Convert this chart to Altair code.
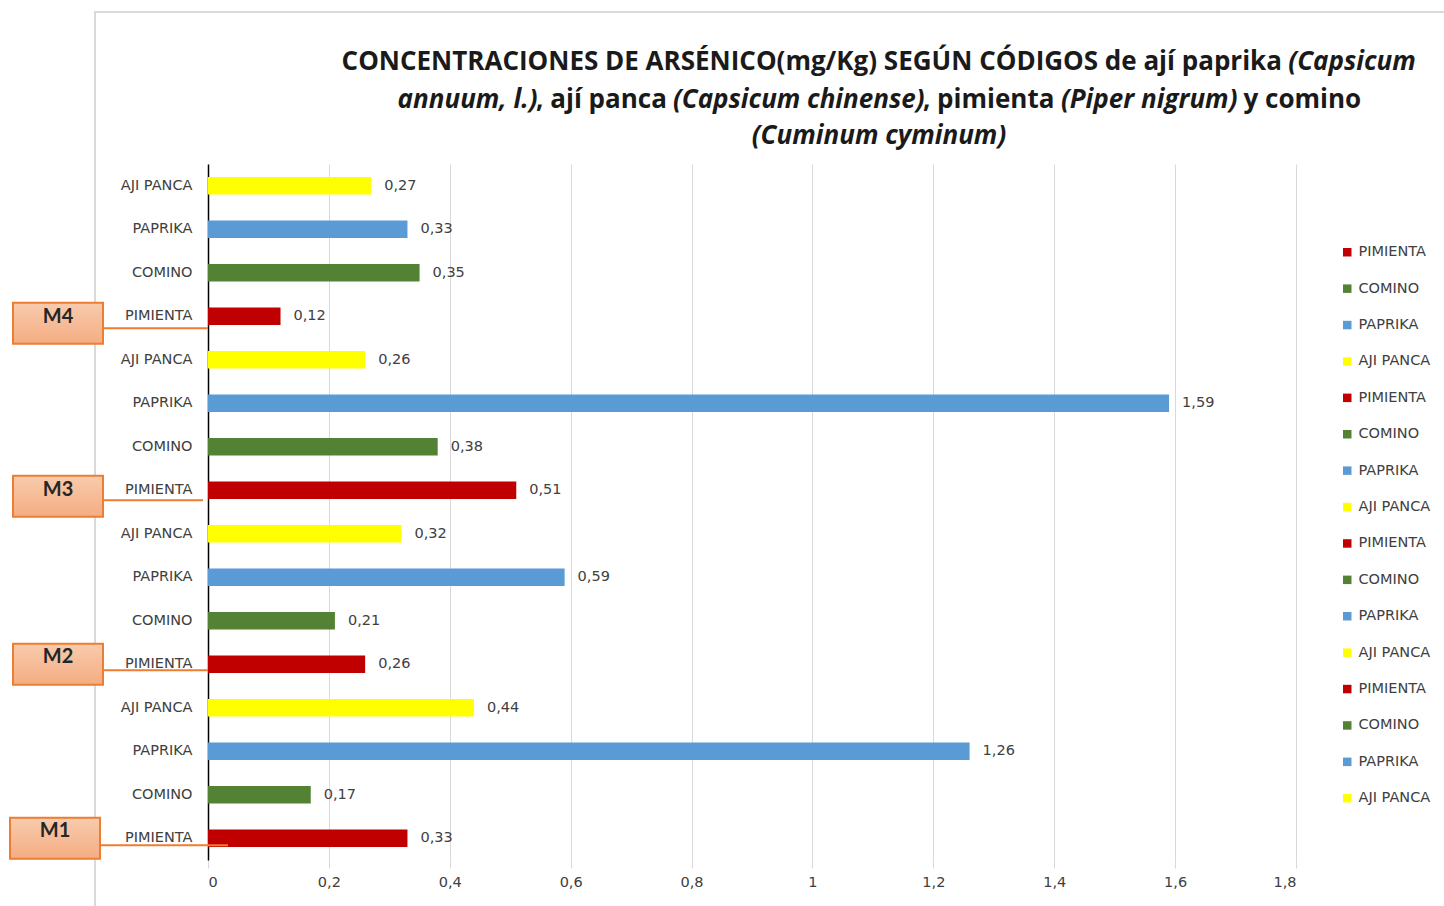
import altair as alt
import pandas as pd

# ---------------- data ----------------
groups = ["M1", "M2", "M3", "M4"]
products = ["PIMIENTA", "COMINO", "PAPRIKA", "AJI PANCA"]   # bottom -> top inside each group
values_m1 = [0.33, 0.17, 1.26, 0.44]
values_m2 = [0.26, 0.21, 0.59, 0.32]
values_m3 = [0.51, 0.38, 1.59, 0.26]
values_m4 = [0.12, 0.35, 0.33, 0.27]
product_colors = ["#C00000", "#548235", "#5B9BD5", "#FFFF00"]
x_ticks = [0, 0.2, 0.4, 0.6, 0.8, 1.0, 1.2, 1.4, 1.6, 1.8]

title_line1 = [("CONCENTRACIONES DE ARSÉNICO(mg/Kg) SEGÚN CÓDIGOS de ají paprika", "normal"),
               ("(Capsicum", "italic")]
title_line2 = [("annuum, l.)", "italic"), (", ají panca", "normal"),
               ("(Capsicum chinense)", "italic"), (", pimienta", "normal"),
               ("(Piper nigrum)", "italic"), ("y comino", "normal")]
title_line3 = [("(Cuminum cyminum)", "italic")]

# ---------------- table ----------------
all_values = [values_m1, values_m2, values_m3, values_m4]
rows = []
for g, vals in zip(groups, all_values):
    for p, v in zip(products, vals):
        rows.append({"id": f"{g}|{p}", "producto": p, "valor": v,
                     "txt": f"{v:.2f}".replace(".", ",")})
df = pd.DataFrame(rows)
bottom_to_top = list(df["id"])
top_to_bottom = bottom_to_top[::-1]
color_range = product_colors * len(groups)

m_df = pd.DataFrame({"id": [f"{g}|PIMIENTA" for g in groups], "grupo": groups})

# ---------------- layout (pixels) ----------------
PL, PT = 208, 164
W, H = 1088, 696

label_font = "DejaVu Sans"
title_font = "Open Sans"
box_font = "Lato"
LFS = 14.5

yscale = alt.Scale(domain=top_to_bottom, paddingInner=0.6, paddingOuter=0.3)
yaxis = alt.Axis(title=None, labelExpr="split(datum.label, '|')[1]", ticks=False,
                 domain=True, domainColor="#000000", domainWidth=1.5, grid=False,
                 labelFont=label_font, labelFontSize=LFS, labelColor="#404040",
                 labelPadding=16)
Y = alt.Y("id:N", scale=yscale, axis=yaxis, sort=top_to_bottom)

xscale = alt.Scale(domain=[0, 1.8], nice=False, zero=True)
xaxis = alt.Axis(title=None, values=x_ticks, grid=True, gridColor="#d9d9d9", gridWidth=1,
                 domain=False, ticks=True, tickColor="#d9d9d9", tickSize=8,
                 labelExpr="replace(format(datum.value, '.1~f'), '.', ',')",
                 labelFont=label_font, labelFontSize=LFS, labelColor="#404040",
                 labelPadding=7)

frame = alt.Chart(pd.DataFrame({"a": [0]})).mark_rect(
    fillOpacity=0, stroke="#d9d9d9", strokeWidth=2
).encode(x=alt.value(95 - PL), x2=alt.value(1500 - PL),
         y=alt.value(12 - PT), y2=alt.value(960 - PT))

bars = alt.Chart(df).mark_bar().encode(
    y=Y,
    x=alt.X("valor:Q", scale=xscale, axis=xaxis),
    color=alt.Color("id:N",
                    scale=alt.Scale(domain=bottom_to_top, range=color_range),
                    sort=bottom_to_top,
                    legend=alt.Legend(title=None, orient="none", legendX=1340 - PL,
                                      legendY=245 - PT, labelExpr="split(datum.label, '|')[1]",
                                      symbolType="square", symbolSize=72, symbolStrokeWidth=0,
                                      labelFont=label_font, labelFontSize=LFS,
                                      labelColor="#404040", rowPadding=21.4,
                                      labelOffset=4, padding=0)),
)

values_txt = alt.Chart(df).mark_text(
    align="left", baseline="middle", dx=13, font=label_font, fontSize=LFS, color="#404040"
).encode(y=Y, x=alt.X("valor:Q", scale=xscale, axis=xaxis), text="txt:N")

box_fill = alt.Gradient(gradient="linear",
                        stops=[alt.GradientStop(color="#F8CBAD", offset=0),
                               alt.GradientStop(color="#F4AD82", offset=1)],
                        x1=0, x2=0, y1=0, y2=1)

# per-box placement relative to the PIMIENTA bar of each group (annotation layout)
box_layout = {
    #      box_x0, box_x1, box_dy, text_dy, line_dy, line_end
    "M1": (-198, -108, 0, -7, 7, 20),
    "M2": (-195, -105, 0, -7, 6, 0),
    "M3": (-195, -105, 6, 0, 10, -5),
    "M4": (-195, -105, 7, 1, 12, 0),
}
annot_layers = []
for g in groups:
    x0, x1, bdy, tdy, ldy, lend = box_layout[g]
    src = alt.Chart(m_df).transform_filter(alt.datum.grupo == g)
    annot_layers.append(
        src.mark_rule(color="#ED7D31", strokeWidth=2, yOffset=ldy).encode(
            y=Y, x=alt.value(x1), x2=alt.value(lend)))
    annot_layers.append(
        src.mark_bar(orient="horizontal", size=41, yOffset=bdy, fill=box_fill,
                     stroke="#ED7D31", strokeWidth=2).encode(
            y=Y, x=alt.value(x0), x2=alt.value(x1)))
    annot_layers.append(
        src.mark_text(font=box_font, fontWeight="bold", fontSize=20, color="#262626",
                      dy=tdy, baseline="middle").encode(
            y=Y, x=alt.value((x0 + x1) / 2), text="grupo:N"))

# title layout: segment widths measured for Open Sans bold at 23 px, scaled to TFS
TFS = 26
k = TFS / 23.0
space = 7.0 * k
line_specs = [
    (title_line1, [830, 112], [True], 62),
    (title_line2, [123, 114, 221, 115, 155, 102], [False, True, False, True, True], 100),
    (title_line3, [191], [], 136),
]
CENTER = 879
title_layers = []
for segs, widths, gaps, cy in line_specs:
    ws = [w * k for w in widths]
    total = sum(ws) + space * sum(gaps)
    xpos = CENTER - total / 2
    for i, ((txt, style), w) in enumerate(zip(segs, ws)):
        cx = xpos + w / 2
        title_layers.append(
            alt.Chart(pd.DataFrame({"a": [0]})).mark_text(
                text=txt, font=title_font, fontWeight="bold", fontStyle=style,
                fontSize=TFS, color="#1a1a1a", align="center", baseline="middle"
            ).encode(x=alt.value(cx - PL), y=alt.value(cy - PT))
        )
        xpos += w + (space if i < len(gaps) and gaps[i] else 0)

chart = alt.layer(frame, bars, values_txt, *annot_layers, *title_layers).properties(
    width=W, height=H,
    autosize=alt.AutoSizeParams(type="none"),
    padding={"left": PL, "top": PT, "right": 1444 - PL - W, "bottom": 906 - PT - H},
    background="white",
).configure_view(stroke=None)

chart.save("out.html", embed_options={"renderer": "svg", "actions": False})
